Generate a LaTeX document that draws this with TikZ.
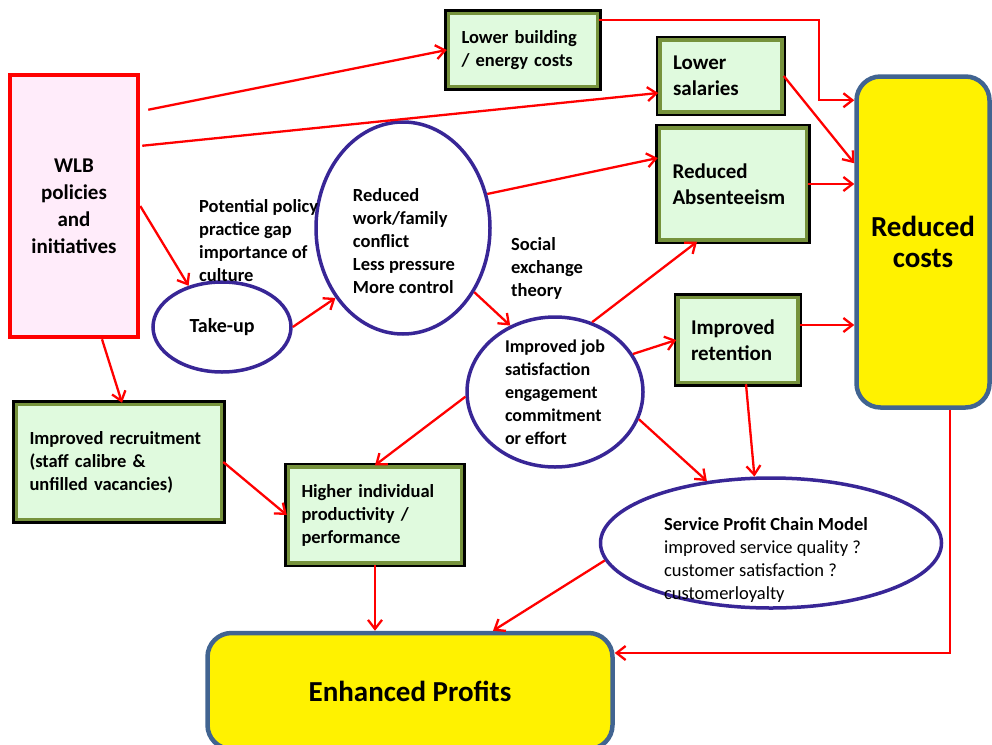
\documentclass[tikz,border=0pt]{standalone}
\usepackage{fontspec}
\setmainfont{Carlito}
\usetikzlibrary{arrows.meta,shapes.geometric}

\definecolor{wlbpink}{RGB}{255,236,250}
\definecolor{boxgreen}{RGB}{224,250,222}
\definecolor{boxolive}{RGB}{118,146,60}
\definecolor{bubbleblue}{RGB}{56,38,150}
\definecolor{goalblue}{RGB}{65,100,145}

\begin{document}
\begin{tikzpicture}[x=1pt,y=-1pt,
  txt/.style={font=\fontsize{18.5}{23}\selectfont\bfseries},
  bigtxt/.style={font=\fontsize{21}{26}\selectfont\bfseries},
  greenbox/.style={draw=boxolive, line width=3.5pt, fill=boxgreen,
    preaction={draw=black, line width=8.5pt},
    align=left, inner xsep=13pt, inner ysep=0pt},
  bubble/.style={ellipse, draw=bubbleblue, line width=3.5pt, inner sep=0pt},
  goalbox/.style={draw=goalblue, line width=4.5pt, fill=yellow,
    rounded corners=24pt, align=center, inner sep=0pt,
    font=\fontsize{29}{31}\selectfont\bfseries},
  note/.style={txt, align=left, inner sep=0pt},
  link/.style={draw=red, line width=2.3pt, -{Straight Barb[length=9pt,width=14pt]}}]
  \useasboundingbox (0,0) rectangle (992,744);
  \clip (0,0) rectangle (992,744);

  \node[draw=red, line width=4.5pt, fill=wlbpink, minimum width=128pt, minimum height=262pt,
        align=center, inner sep=0pt, font=\fontsize{21}{27}\selectfont\bfseries]
        (wlb) at (74,206) {WLB\\policies\\and\\initiatives};

  \node[greenbox, txt, minimum height=73pt, text width=123pt] (build) at (523,50)
        {Lower building\\/ energy costs};
  \node[greenbox, bigtxt, minimum height=72pt, text width=96pt] (salary) at (721,76)
        {Lower\\salaries};
  \node[greenbox, bigtxt, minimum height=112pt, text width=121pt] (absent) at (733,184)
        {Reduced\\Absenteeism};
  \node[greenbox, bigtxt, minimum height=85pt, text width=94pt] (retain) at (738,340)
        {Improved\\retention};
  \node[greenbox, txt, minimum height=115pt, text width=179pt] (recruit) at (119,462)
        {Improved recruitment\\(staff calibre \&\\unfilled vacancies)};
  \node[greenbox, txt, minimum height=96pt, text width=147pt] (product) at (375,515)
        {Higher individual\\productivity /\\performance};

  \node[goalbox, minimum width=133pt, minimum height=331pt] (costs) at (923,242)
        {Reduced\\costs};
  \node[goalbox, minimum width=405pt, minimum height=116pt] (profit) at (410,691)
        {Enhanced Profits};

  \node[bubble, minimum width=138pt, minimum height=90pt, font=\fontsize{20}{24}\selectfont\bfseries]
        (takeup) at (222,327) {Take-up};
  \node[bubble, minimum width=174pt, minimum height=212pt] (conflict) at (403,228) {};
  \node[note] (conflicttxt) at (404,241)
        {Reduced\\work/family\\conflict\\Less pressure\\More control};
  \node[bubble, minimum width=176pt, minimum height=150pt, align=left,
        font=\fontsize{18}{23}\selectfont\bfseries] (jobsat) at (555,392)
        {Improved job\\satisfaction\\engagement\\commitment\\or effort};
  \node[bubble, minimum width=341pt, minimum height=130pt] (spc) at (771,543) {};
  \node[align=left, inner sep=0pt, font=\fontsize{18.5}{23}\selectfont] (spctxt) at (766,560)
        {\textbf{Service Profit Chain Model}\\improved service quality ?\\customer satisfaction ?\\customerloyalty};

  \node[note, anchor=west] (gap) at (199,241)
        {Potential policy\\practice gap\\importance of\\culture};
  \node[note, anchor=west] (social) at (511,268) {Social\\exchange\\theory};

  \draw[link] ([shift={(8,37)}]wlb.north east) -- (build.west);
  \draw[link] ([shift={(2,73)}]wlb.north east) -- ([yshift=-17pt]salary.west);
  \draw[link] (wlb.east) -- (takeup.129);
  \draw[link] ([xshift=28pt]wlb.south) -- ([xshift=3pt]recruit.north);
  \draw[link] (takeup.east) -- (conflict.226);
  \draw[link] (conflict.22) -- ([yshift=26pt]absent.west);
  \draw[link] (conflict.-42) -- (jobsat.124);
  \draw[link] (jobsat.62) -- ([xshift=-36pt]absent.south);
  \draw[link] (jobsat.26) -- (retain.west);
  \draw[link] (jobsat.-18) -- (spc.136);
  \draw[link] (jobsat.183) -- (product.north);
  \draw[link] (recruit.east) -- (product.west);
  \draw[link] (product.south) -- (product.south |- profit.north);
  \draw[link] (spc.186) -- ([xshift=83pt]profit.north);
  \draw[link] ([xshift=27pt]costs.south) |- ([yshift=38pt]profit.east);
  \draw[link] ([yshift=-8pt]build.north east) -| ([shift={(-35,26)}]costs.north west)
              -- ([yshift=-26pt]costs.north west);
  \draw[link] (salary.east) -- ([yshift=-89pt]costs.north west);
  \draw[link] (absent.east) -- (absent.east -| costs.west);
  \draw[link] ([yshift=15pt]retain.east) -- ([yshift=15pt]retain.east -| costs.west);
  \draw[link] ([xshift=8pt]retain.south) -- (spc.104);
\end{tikzpicture}
\end{document}
